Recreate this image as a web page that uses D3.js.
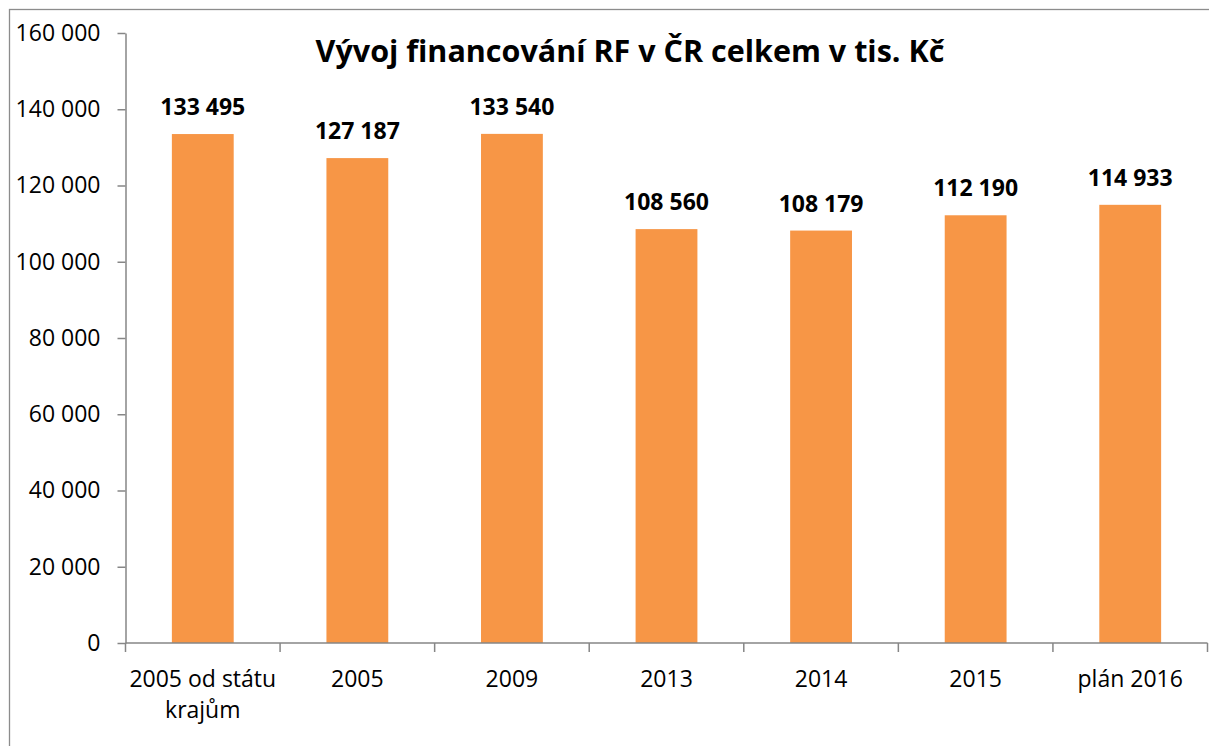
<!DOCTYPE html>
<html>
<head>
<meta charset="utf-8">
<script src="https://cdn.jsdelivr.net/npm/d3@7"></script>
<style>
  html, body { margin: 0; padding: 0; background: #fff; }
  svg { display: block; }
  text { font-family: "Open Sans", "Noto Sans", sans-serif; fill: #000; }
</style>
</head>
<body>
<svg id="chart" width="1209" height="746"></svg>
<script>
// Financing of regional functions (RF) in the Czech Republic, thousands CZK
const categories = ["2005 od státu krajům", "2005", "2009", "2013", "2014", "2015", "plán 2016"];
const values = [133495, 127187, 133540, 108560, 108179, 112190, 114933];
const yTicks = [0, 20000, 40000, 60000, 80000, 100000, 120000, 140000, 160000];
const titleText = "Vývoj financování RF v ČR celkem v tis. Kč";

const W = 1209, H = 746;
const margin = { left: 125.5, right: 1207.5, top: 33, bottom: 643 };
const labelSize = 23;

const svg = d3.select("#chart");

// outer chart frame
svg.append("rect")
  .attr("x", 9.5).attr("y", 9.5)
  .attr("width", W + 20).attr("height", H + 20)
  .attr("fill", "none").attr("stroke", "#8c8c8c").attr("stroke-width", 1.3);

const fmt = v => d3.format(",")(v).replace(/,/g, " ");

const x = d3.scaleBand()
  .domain(categories)
  .range([margin.left, margin.right])
  .paddingInner(0.6)
  .paddingOuter(0.3);

const y = d3.scaleLinear()
  .domain([0, 160000])
  .range([margin.bottom, margin.top]);

// bars
svg.append("g").selectAll("rect")
  .data(values)
  .join("rect")
  .attr("x", (d, i) => x(categories[i]))
  .attr("y", d => y(d))
  .attr("width", x.bandwidth())
  .attr("height", d => y(0) - y(d))
  .attr("fill", "#F79646");

// y axis
const yAxis = svg.append("g")
  .attr("transform", `translate(${margin.left},0)`)
  .call(d3.axisLeft(y).tickValues(yTicks).tickFormat(fmt).tickSize(8).tickSizeOuter(0).tickPadding(17));
yAxis.select(".domain").attr("stroke", "#868686").attr("stroke-width", 1.5);
yAxis.selectAll(".tick line").attr("stroke", "#868686").attr("stroke-width", 1.5);
yAxis.selectAll(".tick text")
  .attr("font-size", labelSize)
  .attr("font-family", "'Open Sans', sans-serif")
  .attr("fill", "#000");

// x axis: ticks sit at category boundaries
const step = x.step();
const boundaries = d3.range(categories.length + 1).map(i => margin.left + i * step);
const xAxisG = svg.append("g");
xAxisG.append("line")
  .attr("x1", margin.left).attr("x2", margin.right)
  .attr("y1", y(0)).attr("y2", y(0))
  .attr("stroke", "#868686").attr("stroke-width", 1.5);
xAxisG.selectAll("line.tk")
  .data(boundaries)
  .join("line")
  .attr("class", "tk")
  .attr("x1", d => d).attr("x2", d => d)
  .attr("y1", y(0)).attr("y2", y(0) + 9)
  .attr("stroke", "#868686").attr("stroke-width", 1.5);

// category labels (wrapped into two lines where needed)
const catLines = c => c === "2005 od státu krajům" ? ["2005 od státu", "krajům"] : [c];
xAxisG.selectAll("text.cat")
  .data(categories)
  .join("text")
  .attr("class", "cat")
  .attr("text-anchor", "middle")
  .attr("font-size", labelSize)
  .each(function(c) {
    const t = d3.select(this);
    catLines(c).forEach((line, k) => {
      t.append("tspan")
        .attr("x", x(c) + x.bandwidth() / 2)
        .attr("y", 687 + k * 31)
        .text(line);
    });
  });

// value labels above bars
svg.append("g").selectAll("text")
  .data(values)
  .join("text")
  .attr("x", (d, i) => x(categories[i]) + x.bandwidth() / 2)
  .attr("y", d => y(d) - 19)
  .attr("text-anchor", "middle")
  .attr("font-size", labelSize)
  .attr("font-weight", "bold")
  .text(fmt);

// title
svg.append("text")
  .attr("x", 630)
  .attr("y", 62)
  .attr("text-anchor", "middle")
  .attr("font-size", 30.5)
  .attr("font-weight", "bold")
  .text(titleText);
</script>
</body>
</html>
